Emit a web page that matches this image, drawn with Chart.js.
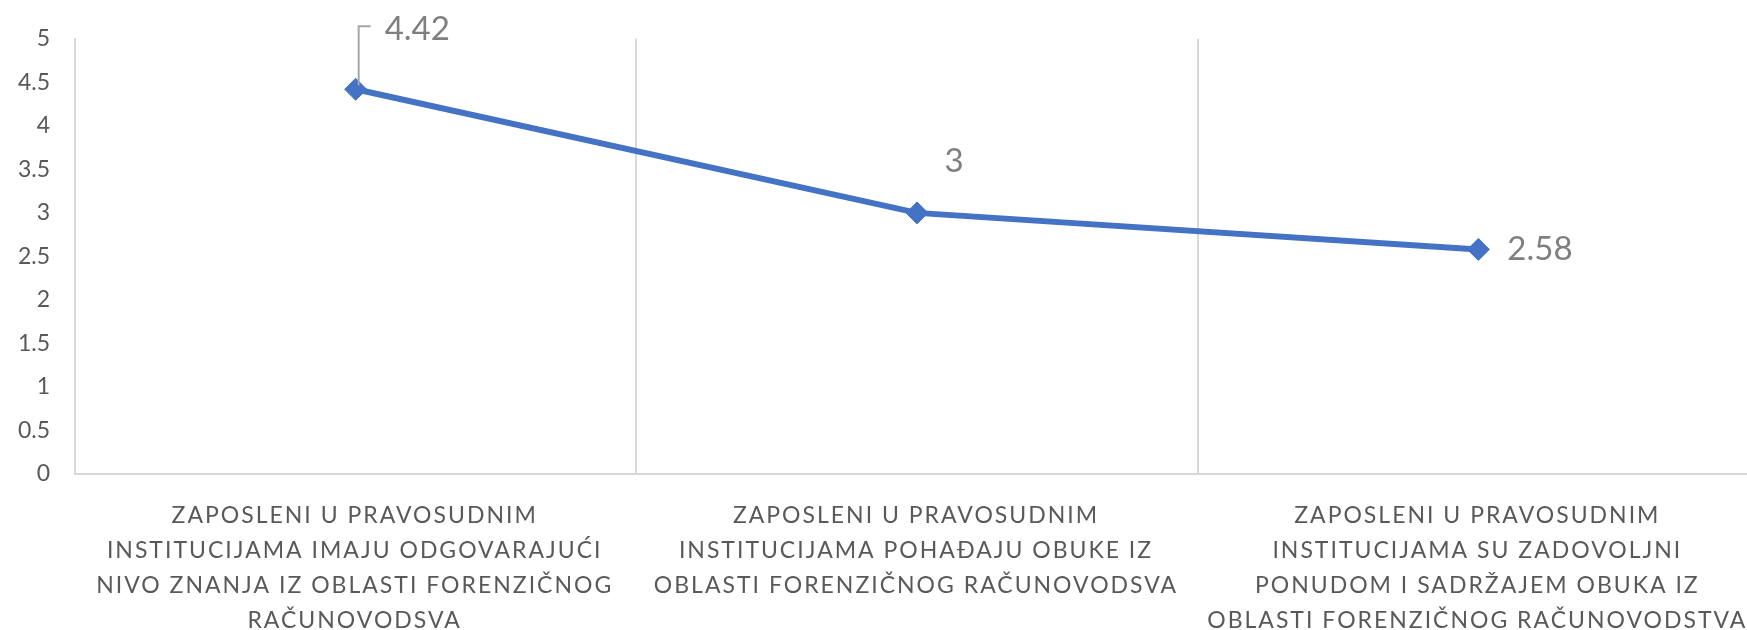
<!DOCTYPE html>
<html>
<head>
<meta charset="utf-8">
<script src="https://cdn.jsdelivr.net/npm/chart.js@4"></script>
<style>
  html, body { margin: 0; padding: 0; background: #fff; overflow: hidden; }
  #wrap { width: 1771px; height: 630px; }
</style>
</head>
<body>
<div id="wrap"><canvas id="myChart"></canvas></div>
<script>

// category labels, already split into lines like in the picture
var categories = [
    ['ZAPOSLENI U PRAVOSUDNIM', 'INSTITUCIJAMA IMAJU ODGOVARAJUĆI', 'NIVO ZNANJA IZ OBLASTI FORENZIČNOG', 'RAČUNOVODSVA'],
    ['ZAPOSLENI U PRAVOSUDNIM', 'INSTITUCIJAMA POHAĐAJU OBUKE IZ', 'OBLASTI FORENZIČNOG RAČUNOVODSVA'],
    ['ZAPOSLENI U PRAVOSUDNIM', 'INSTITUCIJAMA SU ZADOVOLJNI', 'PONUDOM I SADRŽAJEM OBUKA IZ', 'OBLASTI FORENZIČNOG RAČUNOVODSTVA']
];

var values = [4.42, 3, 2.58];

var valueLabels = ['4.42', '3', '2.58'];

// where each value label sits, relative to its point (dx, dy, align)
var labelOffsets = [
    [29, -60, 'left'],
    [37, -52, 'center'],
    [29, 0, 'left']
];

var lineColor = '#4472C4';
var gridColor = '#d9d9d9';
var textColor = '#595959';

var xLabelPlugin = {
    id: 'xLabels',
    afterDraw: function (chart) {
        var ctx = chart.ctx;
        var xs = chart.scales.x;
        var top = chart.chartArea.bottom + 42;
        ctx.save();
        ctx.font = '23px Lato';
        ctx.fillStyle = textColor;
        ctx.textAlign = 'center';
        ctx.textBaseline = 'middle';
        ctx.letterSpacing = '2px';
        categories.forEach(function (lines, i) {
            var x = xs.getPixelForValue(i);
            lines.forEach(function (line, j) {
                ctx.fillText(line, x - 1, top + j * 34.8);
            });
        });
        ctx.restore();
    }
};

var valueLabelPlugin = {
    id: 'valueLabels',
    afterDatasetsDraw: function (chart) {
        var ctx = chart.ctx;
        var meta = chart.getDatasetMeta(0);
        ctx.save();
        ctx.font = '33px Lato';
        ctx.fillStyle = '#7f7f7f';
        ctx.textBaseline = 'middle';
        meta.data.forEach(function (pt, i) {
            var off = labelOffsets[i];
            ctx.textAlign = off[2];
            ctx.fillText(valueLabels[i], pt.x + off[0], pt.y + off[1]);
        });
        // leader line on the first label
        var p = meta.data[0];
        ctx.strokeStyle = '#a6a6a6';
        ctx.lineWidth = 2;
        ctx.beginPath();
        ctx.moveTo(p.x + 3, p.y - 4);
        ctx.lineTo(p.x + 3, p.y - 63);
        ctx.lineTo(p.x + 15, p.y - 63);
        ctx.stroke();
        ctx.restore();
    }
};

var data = {
    labels: categories,
    datasets: [{
        data: values,
        borderColor: lineColor,
        backgroundColor: lineColor,
        borderWidth: 6,
        pointStyle: 'rectRot',
        pointRadius: 11,
        pointBorderWidth: 1,
        pointBackgroundColor: lineColor,
        pointBorderColor: lineColor,
        tension: 0
    }]
};

var config = {
    type: 'line',
    data: data,
    options: {
        responsive: true,
        maintainAspectRatio: false,
        animation: false,
        layout: {
            padding: { top: 37, bottom: 156, left: 0, right: 0 }
        },
        plugins: {
            legend: { display: false },
            tooltip: { enabled: false }
        },
        scales: {
            x: {
                offset: true,
                grid: {
                    offset: true,
                    color: gridColor,
                    lineWidth: 2,
                    drawTicks: false
                },
                border: { color: gridColor, width: 2 },
                ticks: { display: false }
            },
            y: {
                min: 0,
                max: 5,
                afterFit: function (scale) { scale.width = 75; },
                grid: { display: false, drawTicks: false },
                border: { display: true, color: gridColor, width: 2 },
                ticks: {
                    stepSize: 0.5,
                    padding: 25,
                    color: textColor,
                    font: { family: 'Lato', size: 23 },
                    callback: function (v) { return String(v); }
                }
            }
        }
    },
    plugins: [xLabelPlugin, valueLabelPlugin]
};

var chart = new Chart(document.getElementById('myChart'), config);

</script>
</body>
</html>
